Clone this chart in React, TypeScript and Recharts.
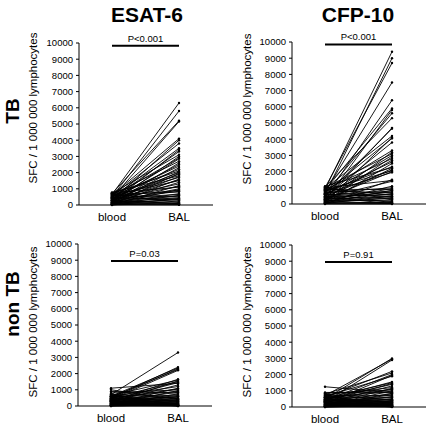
import { Line, LineChart, ReferenceLine, XAxis, YAxis } from "recharts"

const categories = ["blood", "BAL"]
const yTicks = [0, 1000, 2000, 3000, 4000, 5000, 6000, 7000, 8000, 9000, 10000]

// TB patients, ESAT-6
const tbEsatBlood = [
  650, 500, 700, 420, 600, 300, 550, 450, 200, 380, 720, 150, 500, 260, 640, 90, 350, 480, 120, 560,
  700, 240, 410, 60, 330, 780, 180, 520, 40, 290, 610, 130, 450, 20, 370, 750, 210, 80, 540, 310,
  660, 110, 430, 30, 260, 590, 170, 0, 380, 90, 480, 200, 60, 720, 140, 10, 300, 50, 160, 20,
]
const tbEsatBal = [
  6300, 5800, 5200, 5150, 4100, 4000, 3800, 3500, 3400, 3300, 3100, 3000, 2900, 2850, 2700, 2600, 2500, 2400, 2300, 2200,
  2100, 2050, 2000, 1950, 1900, 1800, 1750, 1700, 1600, 1550, 1500, 1400, 1300, 1200, 1150, 1100, 1000, 950, 900, 850,
  800, 700, 650, 600, 550, 500, 450, 400, 380, 350, 300, 250, 200, 150, 120, 100, 80, 50, 30, 10,
]

// TB patients, CFP-10
const tbCfpBlood = [
  900, 600, 1000, 750, 400, 850, 200, 650, 1050, 300, 500, 950, 100, 700, 450, 800, 250, 1000, 550, 150,
  900, 350, 600, 50, 750, 1100, 200, 480, 850, 300, 650, 0, 1000, 400, 120, 700, 250, 900, 60, 550,
  320, 800, 180, 450, 950, 30, 600, 280, 750, 100, 500, 1050, 220, 380, 80, 650, 150, 20, 430, 10,
]
const tbCfpBal = [
  9400, 9000, 8700, 7500, 6400, 5900, 5800, 5600, 5300, 4700, 4650, 4200, 4100, 4050, 3800, 3300, 3200, 3100, 3000, 2900,
  2800, 2700, 2600, 2500, 2300, 2250, 2200, 2100, 2050, 2000, 1950, 1500, 1450, 1400, 1100, 1000, 950, 900, 850, 800,
  750, 700, 650, 600, 550, 500, 480, 450, 400, 350, 300, 250, 200, 150, 100, 80, 50, 30, 20, 0,
]

// non TB patients, ESAT-6
const nonTbEsatBlood = [
  700, 500, 600, 450, 550, 400, 300, 650, 200, 500, 350, 1100, 250, 600, 150, 450, 800, 100, 550, 300,
  900, 50, 400, 200, 700, 120, 350, 600, 30, 250, 480, 1000, 80, 380, 180, 520, 10, 300, 620, 150,
  60, 450, 240, 0, 360, 90, 560, 200, 20, 420, 130, 680, 40, 280, 750, 0, 160, 330, 70, 500,
]
const nonTbEsatBal = [
  3300, 2400, 2350, 2300, 2250, 2200, 1650, 1600, 1550, 1500, 1450, 1400, 1300, 1200, 1100, 1050, 1000, 950, 900, 850,
  800, 750, 700, 650, 600, 580, 550, 500, 480, 450, 420, 400, 380, 350, 330, 300, 280, 250, 230, 200,
  180, 150, 130, 100, 90, 80, 60, 50, 40, 30, 20, 10, 0, 0, 5, 15, 25, 70, 120, 160,
]

// non TB patients, CFP-10
const nonTbCfpBlood = [
  500, 700, 300, 600, 800, 400, 200, 650, 450, 550, 350, 450, 250, 750, 150, 500, 850, 100, 600, 1250,
  900, 50, 400, 200, 700, 120, 350, 600, 30, 250, 480, 800, 80, 380, 180, 520, 10, 300, 620, 150,
  60, 450, 240, 0, 360, 90, 560, 200, 20, 420, 130, 680, 40, 280, 750, 0, 160, 330, 70, 500,
]
const nonTbCfpBal = [
  3000, 2950, 2900, 2200, 2100, 2000, 1950, 1900, 1550, 1500, 1450, 1400, 1300, 1200, 1150, 1100, 1050, 1000, 950, 900,
  880, 850, 800, 750, 700, 650, 600, 550, 500, 480, 450, 420, 400, 380, 350, 320, 300, 280, 250, 220,
  200, 180, 150, 130, 100, 90, 80, 60, 50, 40, 30, 20, 10, 0, 5, 15, 70, 120, 160, 240,
]

const font = "'Liberation Sans', Arial, sans-serif"

type PanelProps = {
  x: number
  y: number
  blood: number[]
  bal: number[]
  pText: string
  pY: number
}

function PairedPanel({ x, y, blood, bal, pText, pY }: PanelProps) {
  const data = categories.map((cat, i) => {
    const row: Record<string, string | number> = { cat }
    const src = i === 0 ? blood : bal
    src.forEach((v, k) => {
      row["s" + k] = v
    })
    return row
  })

  return (
    <div style={{ position: "absolute", left: x, top: y }}>
      <LineChart width={215} height={225} data={data} margin={{ top: 43, right: 2, bottom: 0, left: 39 }}>
        <XAxis
          dataKey="cat"
          height={20}
          padding={{ left: 33, right: 34 }}
          tickLine={false}
          tickSize={0}
          tickMargin={8}
          axisLine={{ stroke: "#000" }}
          tick={{ fill: "#000", fontSize: 11.5, fontFamily: font }}
        />
        <YAxis
          width={40}
          domain={[0, 10000]}
          ticks={yTicks}
          interval={0}
          tickSize={3}
          tickMargin={3}
          axisLine={{ stroke: "#000" }}
          tickLine={{ stroke: "#000" }}
          tick={{ fill: "#000", fontSize: 9.5, fontFamily: font }}
        />
        {blood.map((_, k) => (
          <Line
            key={k}
            dataKey={"s" + k}
            type="linear"
            stroke="#000"
            strokeWidth={0.9}
            dot={{ r: 1.2, fill: "#000", stroke: "#000", strokeWidth: 0 }}
            activeDot={false}
            isAnimationActive={false}
          />
        ))}
        <ReferenceLine
          segment={[
            { x: "blood", y: pY },
            { x: "BAL", y: pY },
          ]}
          stroke="#000"
          strokeWidth={2}
          label={{ value: pText, position: "top", offset: 4, fill: "#000", fontSize: 9.5, fontFamily: font }}
        />
      </LineChart>
    </div>
  )
}

export default function App() {
  return (
    <div
      style={{
        position: "absolute",
        left: 0,
        top: 0,
        width: 430,
        height: 425,
        background: "#fff",
        overflow: "hidden",
        fontFamily: font,
      }}
    >
      <PairedPanel x={0} y={0} blood={tbEsatBlood} bal={tbEsatBal} pText="P<0.001" pY={9830} />
      <PairedPanel x={213} y={-1} blood={tbCfpBlood} bal={tbCfpBal} pText="P<0.001" pY={9850} />
      <PairedPanel x={-1} y={201} blood={nonTbEsatBlood} bal={nonTbEsatBal} pText="P=0.03" pY={8950} />
      <PairedPanel x={213} y={202} blood={nonTbCfpBlood} bal={nonTbCfpBal} pText="P=0.91" pY={8950} />

      <svg width={430} height={425} style={{ position: "absolute", left: 0, top: 0, pointerEvents: "none" }}>
        <text x={147} y={14} textAnchor="middle" dominantBaseline="central" fontSize={21} fontWeight="bold" fontFamily={font}>
          ESAT-6
        </text>
        <text x={358} y={14} textAnchor="middle" dominantBaseline="central" fontSize={21} fontWeight="bold" fontFamily={font}>
          CFP-10
        </text>
        <text
          transform="translate(12,111) rotate(-90)"
          textAnchor="middle"
          dominantBaseline="central"
          fontSize={19}
          fontWeight="bold"
          fontFamily={font}
        >
          TB
        </text>
        <text
          transform="translate(12,304) rotate(-90)"
          textAnchor="middle"
          dominantBaseline="central"
          fontSize={19}
          fontWeight="bold"
          fontFamily={font}
        >
          non TB
        </text>
        {[
          [33, 108],
          [247, 109],
          [33, 322],
          [247, 322],
        ].map(([cx, cy], i) => (
          <text
            key={i}
            transform={`translate(${cx},${cy}) rotate(-90)`}
            textAnchor="middle"
            dominantBaseline="central"
            fontSize={11.5}
            fontFamily={font}
          >
            SFC / 1 000 000 lymphocytes
          </text>
        ))}
      </svg>
    </div>
  )
}
